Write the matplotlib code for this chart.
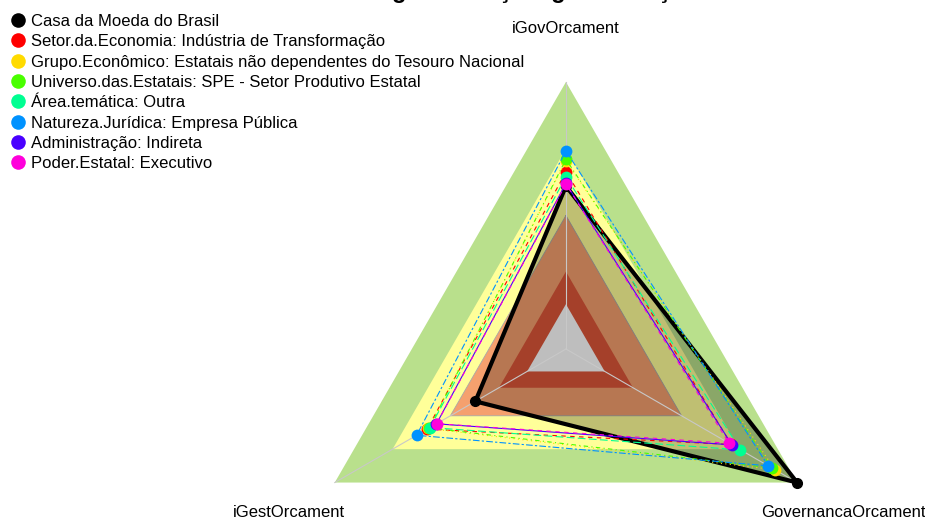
import numpy as np
import matplotlib
matplotlib.use('Agg')
import matplotlib.pyplot as plt
from matplotlib.lines import Line2D

plt.rcParams['font.family'] = ['Liberation Sans', 'DejaVu Sans']

# eixos do radar (topo, esquerda, direita)
eixos = ["iGovOrcament", "iGestOrcament", "GovernancaOrcament"]
titulo = "governança e gestão orçamentária"

nomes = ["Casa da Moeda do Brasil",
         "Setor.da.Economia: Indústria de Transformação",
         "Grupo.Econômico: Estatais não dependentes do Tesouro Nacional",
         "Universo.das.Estatais: SPE - Setor Produtivo Estatal",
         "Área.temática: Outra",
         "Natureza.Jurídica: Empresa Pública",
         "Administração: Indireta",
         "Poder.Estatal: Executivo"]
cores = ["#000000", "#FF0000", "#FFDB00", "#49FF00",
         "#00FF92", "#0092FF", "#4900FF", "#FF00DB"]

# valores: iGov, iGest, Governanca
casa_moeda = [0.61, 0.392, 1.00]
setor_econ = [0.664, 0.60, 0.715]
grupo_econ = [0.705, 0.595, 0.904]
universo = [0.71, 0.591, 0.89]
area_tem = [0.645, 0.588, 0.755]
natureza = [0.742, 0.646, 0.875]
administracao = [0.62, 0.56, 0.718]
poder = [0.618, 0.559, 0.706]
series = [casa_moeda, setor_econ, grupo_econ, universo,
          area_tem, natureza, administracao, poder]

# faixas de fundo (raio externo, cor)
faixas_fora = [(1.00, "#B9E08C"), (0.75, "#FFFF99"), (0.50, "#F5A06E")]
faixas_dentro = [(0.29, "#A5402A"), (0.168, "#BEBEBE")]

estilos = ['-', (0, (4, 4)), (0, (1, 3)), (0, (1, 3, 4, 3)),
           (0, (7, 3)), (0, (2, 2, 6, 2)), '-', (0, (4, 4))]

# %%

ang = np.deg2rad([90, 210, 330])

def xy(vals):
    v = np.asarray(vals, dtype=float)
    x = v * np.cos(ang)
    y = v * np.sin(ang)
    return np.append(x, x[0]), np.append(y, y[0])

fig = plt.figure(figsize=(9.25, 5.21), dpi=100)
ax = fig.add_axes([0, 0, 1, 1])
ax.set_xlim(-2.120, 1.345)
ax.set_ylim(-0.644, 1.307)
ax.axis('off')

for r, c in faixas_fora:
    x, y = xy([r] * 3)
    ax.fill(x, y, color=c, lw=0, zorder=1)

for r in [0.5]:
    x, y = xy([r] * 3)
    ax.plot(x, y, color="#A8A8A8", lw=0.6, zorder=2)

x, y = xy(casa_moeda)
ax.fill(x, y, color="black", alpha=0.25, lw=0, zorder=3)

for r, c in faixas_dentro:
    x, y = xy([r] * 3)
    ax.fill(x, y, color=c, lw=0, zorder=4)

for a in ang:
    ax.plot([0, np.cos(a)], [0, np.sin(a)], color="#C8C8C8", lw=0.8, zorder=5)

for i, (vals, c) in enumerate(zip(series, cores)):
    x, y = xy(vals)
    if i == 0:
        ax.plot(x, y, color=c, lw=3.0, zorder=6)
        ax.plot(x[:-1], y[:-1], 'o', color=c, ms=7, zorder=6)
    else:
        ax.plot(x, y, color=c, lw=0.8, ls=estilos[i], zorder=6 + i)
        ax.plot(x[:-1], y[:-1], 'o', color=c, ms=8.5, mec='none', zorder=6 + i)

for a, nome in zip(ang, eixos):
    dy = 0.0 if np.sin(a) > 0 else -0.012
    ax.text(1.2 * np.cos(a), 1.2 * np.sin(a) + dy, nome, fontsize=12,
            ha='center', va='center')

# titulo cortado no topo, como no original
fig.text(587 / 925, 1 + 2 / 521, titulo, fontsize=17, fontweight='bold',
         ha='center', va='baseline')

handles = [Line2D([], [], marker='o', ls='', color=c, ms=10.5, mec='none')
           for c in cores]
ax.legend(handles, nomes, loc='upper left', bbox_to_anchor=(9.7 / 925, 1 - 14 / 521),
          bbox_transform=fig.transFigure, frameon=False, fontsize=12,
          handlelength=1.0, handletextpad=0.3, labelspacing=0.32,
          borderpad=0, borderaxespad=0)

fig.savefig("out.png", dpi=100)
